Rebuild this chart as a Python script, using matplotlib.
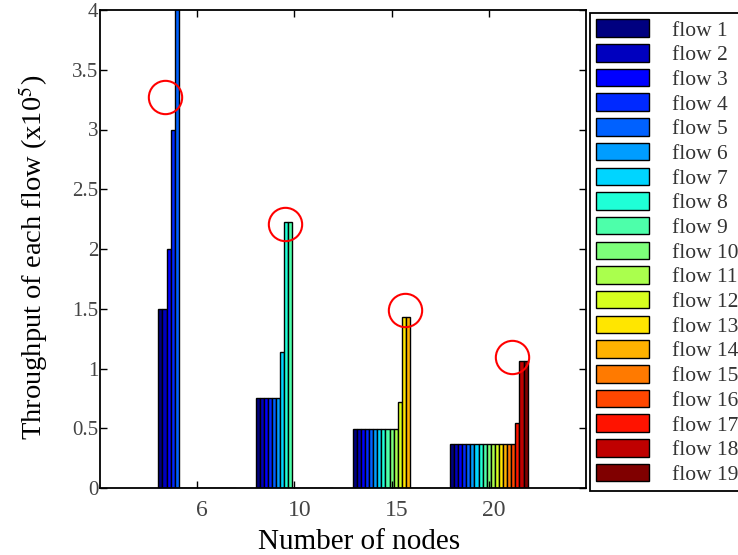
import numpy as np
import matplotlib
matplotlib.use('Agg')
import matplotlib.pyplot as plt
import matplotlib.transforms as mtrans

plt.rcParams['font.family'] = 'Liberation Serif'
plt.rcParams['mathtext.fontset'] = 'stix'

nodes = ['6', '10', '15', '20']
# throughput per flow (x10^5), one list per node count
thr_6 = [1.5, 1.5, 2.0, 3.0, 4.3]
thr_10 = [0.75, 0.75, 0.75, 0.75, 0.75, 0.75, 1.14, 2.23, 2.23]
thr_15 = [0.49, 0.49, 0.49, 0.49, 0.49, 0.49, 0.49, 0.49, 0.49, 0.49, 0.49,
          0.72, 1.43, 1.43]
thr_20 = [0.37, 0.37, 0.37, 0.37, 0.37, 0.37, 0.37, 0.37, 0.37, 0.37, 0.37,
          0.37, 0.37, 0.37, 0.37, 0.37, 0.54, 1.06, 1.06]
flows = ['flow %d' % i for i in range(1, 20)]
# red circle annotations (x in group units, y in data units)
circle_x = [0.67, 1.90, 3.14, 4.24]
circle_y = [3.27, 2.21, 1.49, 1.10]

groups = [thr_6, thr_10, thr_15, thr_20]
nf = len(flows)
Y = np.zeros((len(groups), nf))
for i, g in enumerate(groups):
    Y[i, :len(g)] = g

fig = plt.figure(figsize=(7.38, 5.55), dpi=100)
ax = fig.add_axes([100/738, 1 - 488/555, 486/738, 478/555])

colors = plt.cm.jet(np.linspace(0, 1, nf))
x = np.arange(1, len(groups) + 1)
w = 0.8 / nf
handles = []
for j in range(nf):
    b = ax.bar(x - 0.4 + (j + 0.5) * w, Y[:, j], width=w, color=colors[j],
               edgecolor='black', linewidth=1.0, label=flows[j])
    handles.append(b)

ax.plot(circle_x, circle_y, 'o', mfc='none', mec='red', ms=24, mew=1.5,
        clip_on=False)

ax.set_xlim(0, 5)
ax.set_ylim(0, 4)
ax.set_xticks(x)
ax.set_xticklabels(nodes)
ax.set_yticks(np.arange(0, 4.01, 0.5))
ax.set_yticklabels(['0', '0.5', '1', '1.5', '2', '2.5', '3', '3.5', '4'])
ax.tick_params(direction='in', top=True, right=True, length=5, width=1,
               labelcolor='#444444')
ax.tick_params(axis='x', labelsize=17, pad=9)
ax.tick_params(axis='y', labelsize=15, pad=1)
# x tick labels sit a little right of the ticks in the original
shift = mtrans.ScaledTranslation(0.05, 0, fig.dpi_scale_trans)
for lab in ax.get_xticklabels():
    lab.set_transform(lab.get_transform() + shift)
for s in ax.spines.values():
    s.set_linewidth(1.3)

ax.set_xlabel('Number of nodes', fontsize=21)
ax.xaxis.set_label_coords(0.533, -0.085)
ax.set_ylabel('Throughput of each flow (x10$^{5}$)', fontsize=20.5)
ax.yaxis.set_label_coords(-0.103, 0.483)

# legend runs past the right edge of the figure, as in the original
leg = fig.legend(handles=handles, loc='upper left',
                 bbox_to_anchor=(590/738, 1 - 13/555), fontsize=15.5,
                 handlelength=2.45, handleheight=0.88, labelspacing=0.16,
                 handletextpad=1.05, borderpad=0.3, borderaxespad=0,
                 fancybox=False, edgecolor='black', framealpha=1)
leg.get_frame().set_linewidth(1.3)
for t in leg.get_texts():
    t.set_color('#333333')

fig.savefig('out.png', dpi=100)
